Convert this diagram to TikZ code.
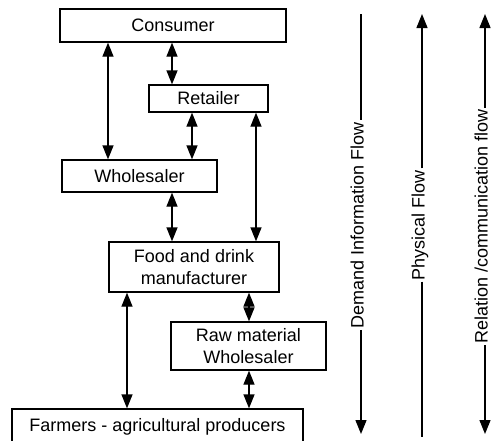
\documentclass[tikz,border=0pt]{standalone}
\usepackage{fontspec}
\setmainfont{Liberation Sans}
\usetikzlibrary{arrows.meta}
\begin{document}
\begin{tikzpicture}[x=1pt,y=-1pt,
  box/.style={draw, line width=1.3pt, inner sep=0pt, align=center,
    font=\fontsize{18}{21.5}\selectfont},
  conn/.style={line width=1.3pt, {Triangle[length=14pt,width=11pt]}-{Triangle[length=14pt,width=11pt]}},
  flowlab/.style={rotate=90, anchor=mid, inner xsep=1.5pt, inner ysep=0pt,
    font=\fontsize{18}{21.5}\selectfont},
  flowline/.style={line width=1.3pt},
  tip/.style={line width=1.3pt, -{Triangle[length=14pt,width=11pt]}}]
\useasboundingbox (0,0) rectangle (492,440);
% boxes
\node[box, minimum width=226pt, minimum height=33pt] (cons) at (173,25.5) {Consumer};
\node[box, minimum width=119pt, minimum height=27pt] (ret) at (208.5,98.5) {Retailer};
\node[box, minimum width=155pt, minimum height=32pt] (whl) at (139.5,176) {Wholesaler};
\node[box, minimum width=170pt, minimum height=50pt] (food) at (194,267) {Food and drink\\manufacturer};
\node[box, minimum width=155pt, minimum height=48pt] (raw) at (248.5,346) {Raw material\\Wholesaler};
\node[box, minimum width=291pt, minimum height=36pt] (farm) at (157.5,427) {Farmers - agricultural producers};
% x positions of connectors
\coordinate (xa) at (108,0);
\coordinate (xb) at (172,0);
\coordinate (xc) at (192,0);
\coordinate (xd) at (256,0);
\coordinate (xe) at (249,0);
\coordinate (xf) at (127,0);
\draw[conn] (cons.south -| xa) -- (whl.north -| xa);
\draw[conn] (cons.south -| xb) -- (ret.north -| xb);
\draw[conn] (ret.south -| xc) -- (whl.north -| xc);
\draw[conn] (ret.south -| xd) -- (food.north -| xd);
\draw[conn] (whl.south -| xb) -- (food.north -| xb);
\draw[conn] (food.south -| xe) -- (raw.north -| xe);
\draw[conn] (food.south -| xf) -- (farm.north -| xf);
\draw[conn] (raw.south -| xe) -- (farm.north -| xe);
% flow lines
\coordinate (dtop) at (361,14);
\coordinate (dbot) at (361,434);
\node[flowlab] (dlab) at (361,225) {Demand Information Flow};
\draw[flowline] (dtop) -- (dlab.mid east);
\draw[tip] (dlab.mid west) -- (dbot);
\coordinate (ptop) at (422,14);
\coordinate (pbot) at (422,437);
\node[flowlab] (plab) at (422,225) {Physical Flow};
\draw[tip] (plab.mid east) -- (ptop);
\draw[flowline] (plab.mid west) -- (pbot);
\coordinate (rtop) at (485,14);
\coordinate (rbot) at (485,434);
\node[flowlab] (rlab) at (485,226.5) {Relation /communication flow};
\draw[tip] (rlab.mid east) -- (rtop);
\draw[tip] (rlab.mid west) -- (rbot);
\end{tikzpicture}
\end{document}
